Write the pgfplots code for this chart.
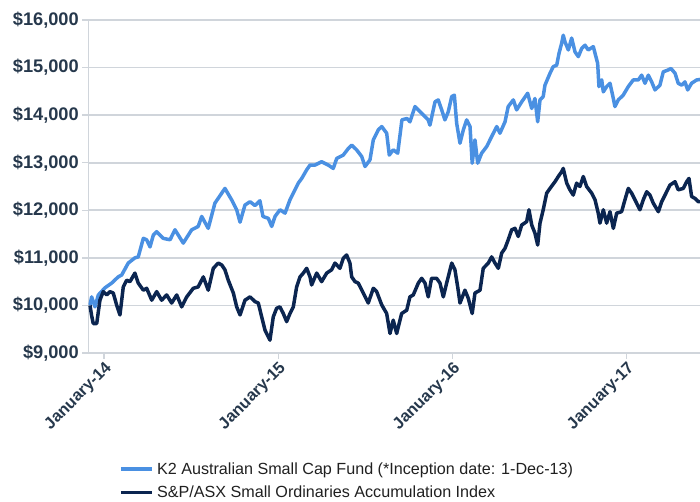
\documentclass[border=0pt]{standalone}
\usepackage{pgfplots}
\pgfplotsset{compat=1.18}
\usepackage{pgfplotstable}
\usepackage{fontspec}
\setmainfont{Liberation Sans}
\definecolor{fundblue}{HTML}{4A90E2}
\definecolor{navy}{HTML}{0B2550}
\definecolor{gridc}{HTML}{D0D5DB}
\definecolor{tickc}{HTML}{26384C}
\definecolor{legc}{HTML}{202020}

\pgfplotstableread{
m v
-0.96 10010
-0.85 10180
-0.62 9970
-0.39 10220
0.07 10370
0.53 10470
0.98 10600
1.22 10640
1.67 10890
2.13 11000
2.36 11020
2.71 11410
2.94 11380
3.17 11230
3.40 11480
3.63 11550
4.08 11410
4.55 11380
4.89 11590
5.46 11310
6.04 11590
6.49 11660
6.73 11870
7.18 11620
7.64 12150
8.11 12360
8.33 12460
8.79 12220
9.14 12010
9.37 11750
9.71 12110
10.06 12180
10.40 12100
10.74 12200
10.95 11870
11.32 11830
11.55 11660
11.78 11870
12.12 12010
12.47 11940
12.81 12220
13.04 12360
13.38 12570
13.62 12670
13.96 12850
14.19 12950
14.53 12950
14.99 13020
15.45 12950
15.79 12880
16.03 13090
16.48 13160
16.83 13300
17.06 13370
17.40 13270
17.75 13130
17.98 12920
18.32 13060
18.55 13480
18.89 13690
19.13 13760
19.47 13620
19.65 13160
19.92 13270
20.23 13200
20.52 13900
20.87 13930
21.07 13860
21.42 14180
21.88 14040
22.33 13900
22.45 13790
22.80 14280
23.02 14320
23.26 14110
23.48 13900
23.71 14070
23.95 14390
24.13 14420
24.29 13830
24.52 13410
24.75 13690
24.98 13900
25.21 13760
25.36 12990
25.55 13480
25.74 12990
26.01 13200
26.36 13340
26.70 13550
27.05 13760
27.27 13620
27.62 13860
27.84 14180
28.19 14320
28.42 14110
28.77 14280
29.18 14460
29.46 14140
29.68 14350
29.87 13860
30.03 14320
30.25 14390
30.37 14630
30.72 14880
30.94 15020
31.18 15050
31.34 15300
31.52 15510
31.63 15680
31.75 15540
31.98 15370
32.21 15620
32.44 15330
32.67 15230
32.90 15400
33.13 15470
33.35 15370
33.70 15440
33.82 15300
34.00 15090
34.09 14600
34.28 14740
34.39 14490
34.62 14600
34.85 14670
35.08 14350
35.19 14180
35.42 14320
35.76 14420
36.11 14600
36.45 14740
36.80 14740
37.03 14840
37.26 14670
37.49 14840
37.72 14700
37.95 14530
38.29 14630
38.52 14910
38.86 14950
39.05 14980
39.33 14880
39.55 14670
39.79 14630
40.01 14700
40.20 14530
40.47 14670
40.82 14740
41.05 14750
}\fund

\pgfplotstableread{
m v
-0.96 10000
-0.86 9800
-0.74 9620
-0.50 9620
-0.28 10110
-0.05 10290
0.19 10220
0.41 10290
0.64 10260
0.87 10010
1.10 9800
1.33 10390
1.56 10530
1.79 10500
2.13 10680
2.36 10470
2.71 10320
2.94 10360
3.29 10110
3.63 10290
3.97 10110
4.32 10220
4.66 10050
5.01 10220
5.35 9970
5.70 10180
6.15 10360
6.49 10390
6.84 10600
7.18 10320
7.53 10780
7.87 10890
8.11 10850
8.33 10750
8.56 10530
8.91 10260
9.14 9970
9.37 9800
9.71 10110
10.06 10180
10.40 10080
10.63 10050
10.86 9760
11.09 9480
11.43 9270
11.66 9760
11.89 9940
12.12 9970
12.35 9830
12.58 9660
12.81 9830
13.04 9970
13.27 10390
13.50 10600
13.73 10680
13.96 10780
14.19 10600
14.30 10430
14.65 10680
14.99 10500
15.34 10680
15.68 10750
15.91 10890
16.25 10780
16.48 10990
16.71 11060
16.94 10890
17.06 10600
17.29 10500
17.51 10470
17.86 10260
18.20 10050
18.55 10360
18.78 10290
19.13 10010
19.47 9830
19.70 9410
19.92 9690
20.16 9410
20.50 9830
20.85 9900
21.07 10180
21.30 10220
21.65 10470
21.88 10570
22.11 10470
22.33 10180
22.56 10570
22.91 10570
23.14 10470
23.37 10180
23.60 10470
23.95 10890
24.17 10750
24.36 10390
24.52 10050
24.86 10320
25.09 10150
25.36 9830
25.55 10260
25.90 10320
26.12 10780
26.47 10890
26.70 11020
26.93 10890
27.16 10780
27.39 11100
27.62 11200
27.84 11380
28.08 11590
28.31 11620
28.53 11450
28.77 11690
29.11 11760
29.27 12010
29.46 11690
29.68 11520
29.87 11270
30.03 11730
30.25 12010
30.49 12360
30.72 12460
31.06 12600
31.29 12710
31.52 12810
31.63 12880
31.87 12570
32.09 12430
32.32 12320
32.55 12570
32.78 12500
33.01 12710
33.24 12500
33.59 12360
33.82 12220
34.04 11940
34.16 11730
34.39 12010
34.62 11730
34.85 11970
35.08 11620
35.31 11940
35.65 11970
35.88 12220
36.11 12460
36.34 12360
36.57 12220
36.91 12010
37.14 12220
37.38 12390
37.60 12320
37.83 12150
38.18 11970
38.41 12180
38.64 12320
38.98 12530
39.33 12600
39.55 12430
39.90 12460
40.13 12600
40.29 12670
40.47 12290
40.70 12250
40.93 12180
41.05 12180
}\index

\begin{document}
\begin{tikzpicture}[x=1bp,y=1bp]
\useasboundingbox (0,0) rectangle (700,502);
\begin{axis}[
  at={(88.3bp,149bp)}, anchor=south west,
  scale only axis, width=611.7bp, height=333bp,
  xmin=-1.08, xmax=41.05, ymin=9000, ymax=16000,
  scaled y ticks=false,
  axis lines*=left,
  axis line style={draw=gridc, line width=1.6bp, -},
  ymajorgrids, grid style={draw=gridc, line width=1.6bp},
  tick align=outside, major tick length=6bp,
  tick style={draw=gridc, line width=1.4bp},
  ytick={9000,10000,11000,12000,13000,14000,15000,16000},
  yticklabels={{\$9,000},{\$10,000},{\$11,000},{\$12,000},{\$13,000},{\$14,000},{\$15,000},{\$16,000}},
  yticklabel style={font=\bfseries\fontsize{18.3}{19}\selectfont, text=tickc},
  xtick={0,12,24,36},
  xticklabels={January-14,January-15,January-16,January-17},
  xticklabel style={font=\bfseries\fontsize{16.5}{17}\selectfont, text=tickc, rotate=45, anchor=north east, inner sep=1bp},
  legend style={at={(0.05,-0.322)}, anchor=north west, draw=none, fill=none,
    font=\fontsize{16.2}{19}\selectfont, text=legc, inner sep=0pt, row sep=6.5bp, column sep=1.5bp},
  legend cell align=left,
  legend image code/.code={\draw[#1] (0bp,0bp) -- (31bp,0bp);},
  clip=true,
]
\addplot[fundblue, line width=3.5bp, line join=round] table[x=m,y=v] {\fund};
\addlegendentry{K2 Australian Small Cap Fund (*Inception date: 1-Dec-13)}
\addplot[navy, line width=3.5bp, line join=round] table[x=m,y=v] {\index};
\addlegendentry{S\&P/ASX Small Ordinaries Accumulation Index}
\end{axis}
\end{tikzpicture}
\end{document}
